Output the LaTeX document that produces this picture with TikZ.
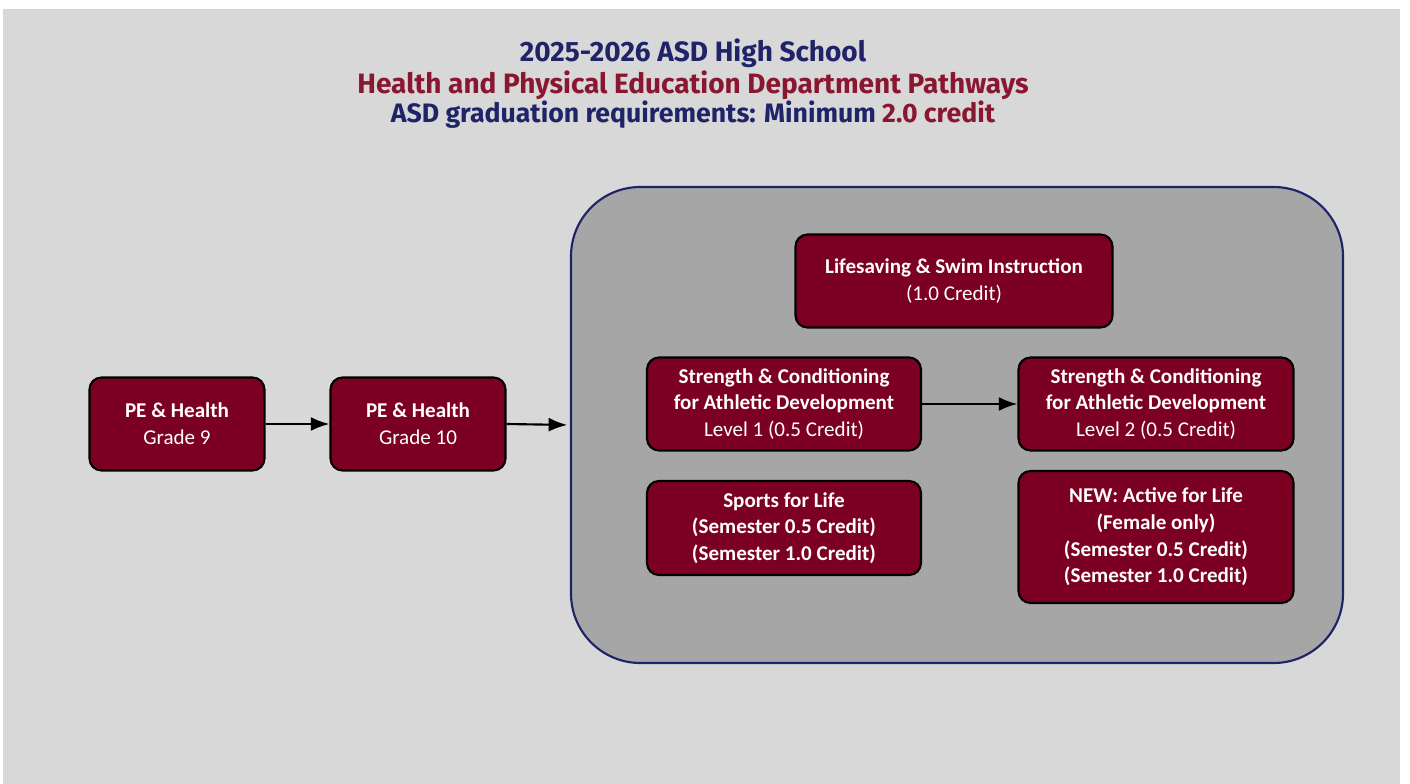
\documentclass[tikz,border=0pt]{standalone}
\usepackage{fontspec}
\setmainfont{Carlito}
\newfontfamily\titlefont{Fira Sans}
\usetikzlibrary{arrows.meta}

\definecolor{pagegray}{HTML}{D8D8D8}
\definecolor{panelgray}{HTML}{A6A6A6}
\definecolor{asdnavy}{HTML}{1F2468}
\definecolor{asdred}{HTML}{8A1730}
\definecolor{coursered}{HTML}{7C0021}

\def\px{0.75pt}

\tikzset{
  course/.style={rectangle, rounded corners=9pt, draw=black, line width=1.6pt,
    fill=coursered, text=white, align=center, inner sep=2pt,
    font=\fontsize{15.8}{20}\selectfont},
  pathway/.style={-{Latex[length=14pt,width=10.5pt]}, line width=1.6pt, black},
  titleline/.style={font=\titlefont\bfseries\fontsize{#1}{#1}\selectfont, inner sep=0pt}
}

\begin{document}
\begin{tikzpicture}[x=0.75pt,y=-0.75pt]
  \useasboundingbox (0,0) rectangle (1410,784);
  \fill[pagegray] (3,9) rectangle (1400,784);

  % heading
  \node[titleline=21, text=asdnavy] (title1) at (693,53) {2025-2026 ASD High School};
  \node[titleline=21, text=asdred] (title2) at (693,85) {Health and Physical Education Department Pathways};
  \node[titleline=20, text=asdnavy] (title3) at (693,115) {ASD graduation requirements: Minimum \textcolor{asdred}{2.0 credit}};

  % elective panel
  \node[rectangle, rounded corners=52pt, draw=asdnavy, line width=1.6pt, fill=panelgray,
        minimum width=772*\px, minimum height=476*\px] (pathbox) at (957,425) {};

  % grade 9 and 10
  \node[course, minimum width=175*\px, minimum height=93*\px] (pe9) at (177,424)
    {\textbf{PE \& Health}\\Grade 9};
  \node[course, minimum width=175*\px, minimum height=93*\px] (pe10) at (418,424)
    {\textbf{PE \& Health}\\Grade 10};

  % electives
  \node[course, minimum width=317*\px, minimum height=93*\px] (swim) at (954,281)
    {\textbf{Lifesaving \& Swim Instruction}\\(1.0 Credit)};
  \node[course, minimum width=274*\px, minimum height=93*\px] (strength1) at (784,404)
    {\textbf{Strength \& Conditioning}\\\textbf{for Athletic Development}\\Level 1 (0.5 Credit)};
  \node[course, minimum width=275*\px, minimum height=93*\px] (strength2) at (1156,404)
    {\textbf{Strength \& Conditioning}\\\textbf{for Athletic Development}\\Level 2 (0.5 Credit)};
  \node[course, minimum width=274*\px, minimum height=94*\px, font=\bfseries\fontsize{15.8}{20}\selectfont] (sports) at (784,528)
    {Sports for Life\\(Semester 0.5 Credit)\\(Semester 1.0 Credit)};
  \node[course, minimum width=275*\px, minimum height=132*\px, font=\bfseries\fontsize{15.8}{20}\selectfont] (active) at (1156,537)
    {NEW: Active for Life\\(Female only)\\(Semester 0.5 Credit)\\(Semester 1.0 Credit)};

  % arrows
  \draw[pathway] (pe9) -- (pe10);
  \draw[pathway, shorten >=2pt] (pe10.east) -- (pathbox.west);
  \draw[pathway] (strength1) -- (strength2);
\end{tikzpicture}
\end{document}
